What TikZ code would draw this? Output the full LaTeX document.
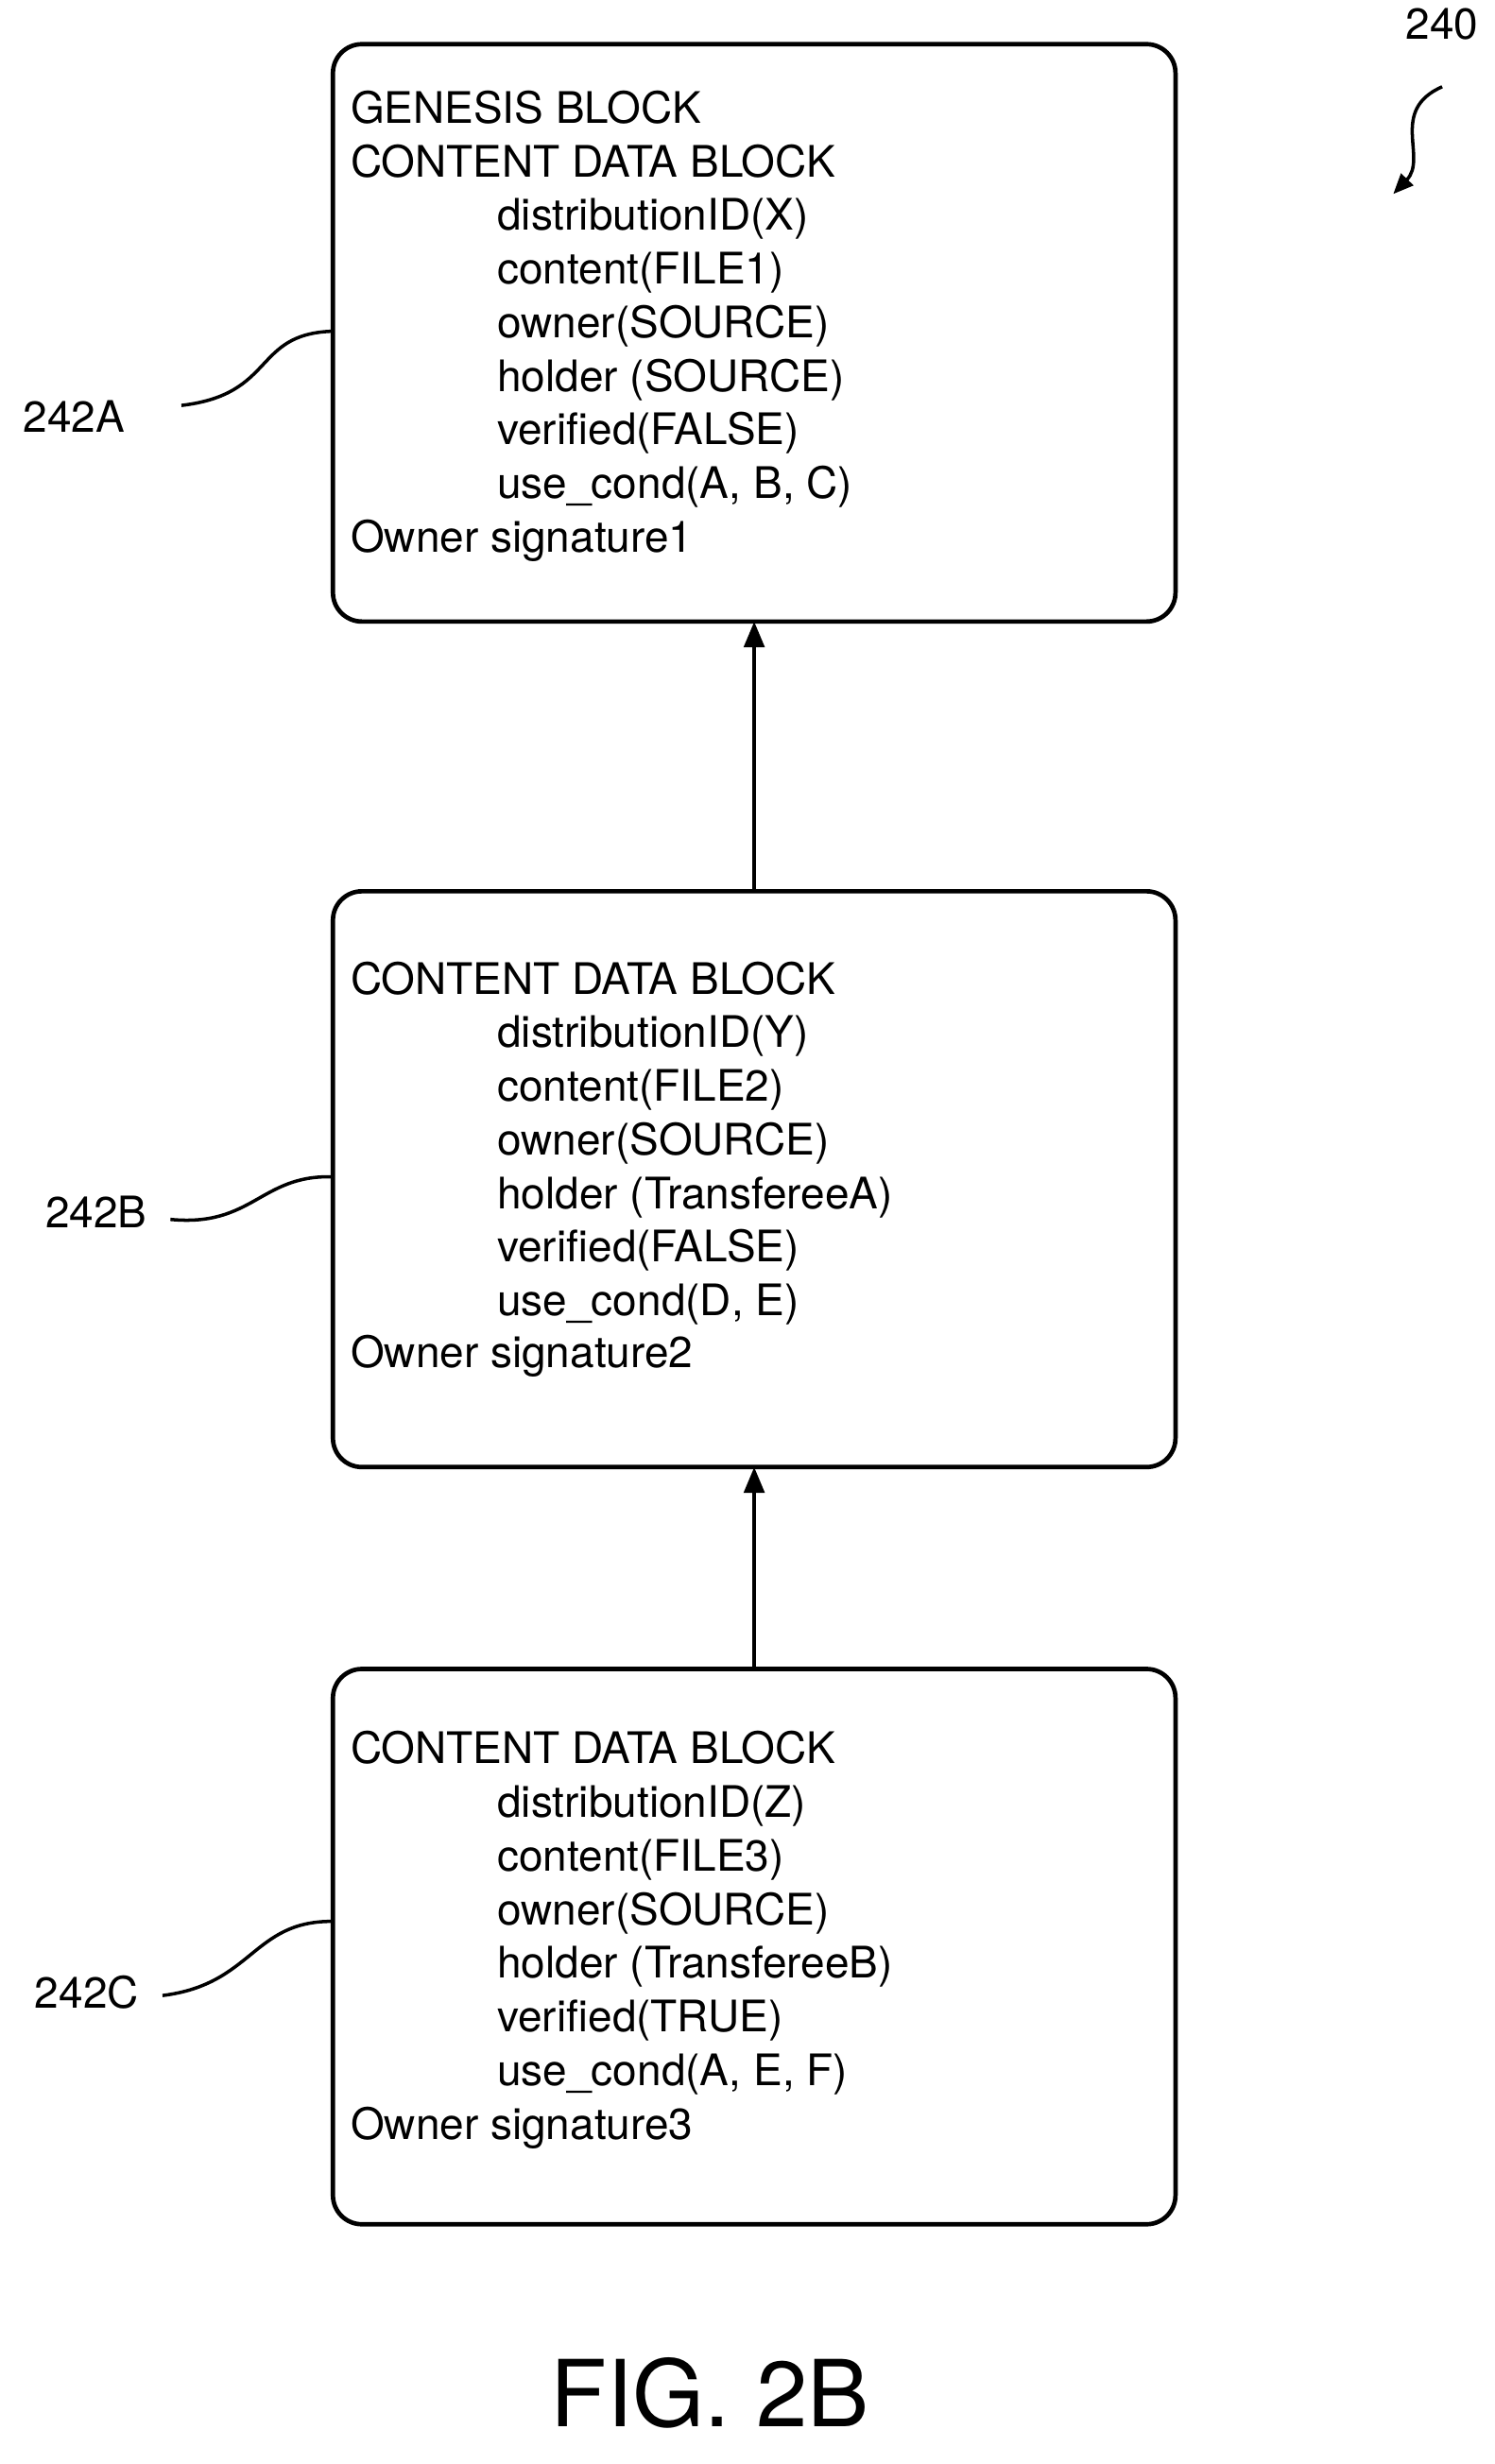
\documentclass[tikz,border=0pt]{standalone}
\usepackage{fontspec}
\setmainfont{TeX Gyre Heros}
\usetikzlibrary{arrows.meta}
\begin{document}
\begin{tikzpicture}[x=0.03cm,y=-0.03cm,
  blk/.style={draw,line width=2.4pt,rounded corners=0.55cm},
  t/.style={anchor=mid west,inner sep=0,font=\fontsize{23.5}{29}\selectfont},
  conn/.style={line width=2.2pt,-{Triangle[length=14pt,width=11pt]}},
  lead/.style={line width=1.8pt}]
\useasboundingbox (0,0) rectangle (947,1562);
\draw[blk] (211,28) rectangle (745,394);
\draw[blk] (211,565) rectangle (745,930);
\draw[blk] (211,1058) rectangle (745,1410);
\coordinate (At) at (478,394); \coordinate (Bb) at (478,565);
\coordinate (Bt) at (478,930); \coordinate (Cb) at (478,1058);
\draw[conn] (Bb) -- (At);
\draw[conn] (Cb) -- (Bt);
% block A
\node[t] (a1) at (222,75) {GENESIS BLOCK};
\node[t] (a2) at (222,109) {CONTENT DATA BLOCK};
\node[t] (a3) at (315,143) {distributionID(X)};
\node[t] (a4) at (315,177) {content(FILE1)};
\node[t] (a5) at (315,211) {owner(SOURCE)};
\node[t] (a6) at (315,245) {holder (SOURCE)};
\node[t] (a7) at (315,279) {verified(FALSE)};
\node[t] (a8) at (315,313) {use\_cond(A, B, C)};
\node[t] (a9) at (222,347) {Owner signature1};
% block B
\node[t] (b2) at (222,627) {CONTENT DATA BLOCK};
\node[t] (b3) at (315,661) {distributionID(Y)};
\node[t] (b4) at (315,695) {content(FILE2)};
\node[t] (b5) at (315,729) {owner(SOURCE)};
\node[t] (b6) at (315,763) {holder (TransfereeA)};
\node[t] (b7) at (315,797) {verified(FALSE)};
\node[t] (b8) at (315,831) {use\_cond(D, E)};
\node[t] (b9) at (222,864) {Owner signature2};
% block C
\node[t] (c2) at (222,1115) {CONTENT DATA BLOCK};
\node[t] (c3) at (315,1149) {distributionID(Z)};
\node[t] (c4) at (315,1183) {content(FILE3)};
\node[t] (c5) at (315,1217) {owner(SOURCE)};
\node[t] (c6) at (315,1251) {holder (TransfereeB)};
\node[t] (c7) at (315,1285) {verified(TRUE)};
\node[t] (c8) at (315,1319) {use\_cond(A, E, F)};
\node[t] (c9) at (222,1353) {Owner signature3};
% labels
\node[t,anchor=mid] (lA) at (47,271) {242A};
\node[t,anchor=mid] (lB) at (61,775) {242B};
\node[t,anchor=mid] (lC) at (55,1270) {242C};
\node[t,anchor=mid] (l240) at (914,22) {240};
\draw[lead] (115,257) .. controls (175,250) and (160,212) .. (210,210);
\draw[lead] (108,773) .. controls (160,778) and (165,745) .. (210,746);
\draw[lead] (103,1265) .. controls (160,1258) and (160,1218) .. (210,1218);
\draw[lead,-{Triangle[length=11pt,width=9pt]}] (914,55) .. controls (880,70) and (905,100) .. (883,123);
\node[anchor=mid,inner sep=0,font=\fontsize{50}{60}\selectfont] (fig) at (450,1535) {FIG. 2B};
\end{tikzpicture}
\end{document}
